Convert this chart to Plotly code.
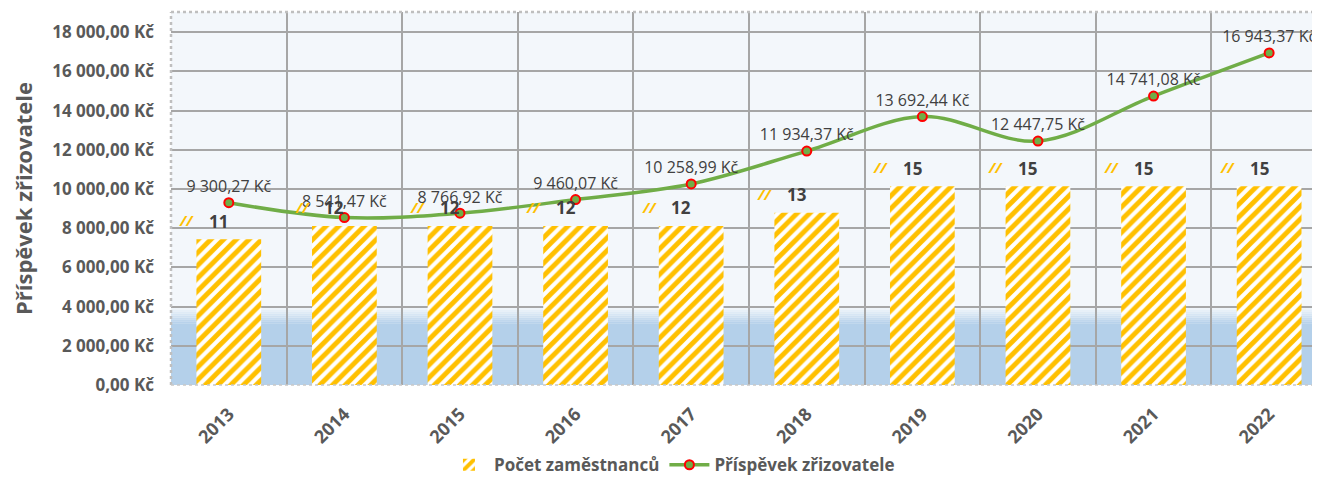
import plotly.graph_objects as go

years = ["2013", "2014", "2015", "2016", "2017", "2018", "2019", "2020", "2021", "2022"]
employees = [11, 12, 12, 12, 12, 13, 15, 15, 15, 15]
contribution = [9300.27, 8541.47, 8766.92, 9460.07, 10258.99, 11934.37, 13692.44, 12447.75, 14741.08, 16943.37]
y_ticks = [0, 2000, 4000, 6000, 8000, 10000, 12000, 14000, 16000, 18000]


def czk(v):
    return f"{v:,.2f}".replace(",", " ").replace(".", ",") + " Kč"


y_ticktext = [czk(v) for v in y_ticks]

FONT = "Open Sans"
GRAY = "#595959"
DARK = "#404040"

fig = go.Figure()

fig.add_trace(go.Bar(
    x=years, y=employees, name="Počet zaměstnanců", yaxis="y",
    width=0.56,
    marker=dict(color="white", line=dict(width=0),
                pattern=dict(shape="/", fgcolor="#ffc000", bgcolor="white",
                             size=9, solidity=0.55, fgopacity=1)),
    hoverinfo="skip",
))

fig.add_trace(go.Scatter(
    x=years, y=contribution, name="Příspěvek zřizovatele", yaxis="y2",
    mode="lines+markers+text",
    line=dict(color="#70ad47", width=3.5, shape="spline", smoothing=1.0),
    marker=dict(color="#70ad47", size=9, line=dict(color="#ff0000", width=2)),
    text=[czk(v) for v in contribution], textposition="top center",
    textfont=dict(family=FONT, size=16, color=DARK),
))

annotations = []
for i, n in enumerate(employees):
    annotations.append(dict(x=i, y=n, xref="x", yref="y", text=f"<b>{n}</b>",
                            showarrow=False, xshift=-10, yshift=18,
                            font=dict(family=FONT, size=17, color=DARK)))
    annotations.append(dict(x=i, y=n, xref="x", yref="y", text="<b><i>//</i></b>",
                            showarrow=False, xshift=-42, yshift=19,
                            font=dict(family=FONT, size=15, color="#ffc000")))

# background band (blue at bottom with soft fade)
shapes = []
shapes.append(dict(type="rect", xref="paper", yref="y2", x0=0, x1=1, y0=0, y1=3150,
                   fillcolor="#b4d0ea", line=dict(width=0), layer="below"))
steps = 8
lo, hi = 3150, 3950
c0 = (0xb4, 0xd0, 0xea)
c1 = (0xf3, 0xf7, 0xfb)
for i in range(steps):
    t = (i + 0.5) / steps
    col = tuple(round(c0[k] + (c1[k] - c0[k]) * t) for k in range(3))
    shapes.append(dict(type="rect", xref="paper", yref="y2", x0=0, x1=1,
                       y0=lo + (hi - lo) * i / steps, y1=lo + (hi - lo) * (i + 1) / steps,
                       fillcolor="rgb(%d,%d,%d)" % col, line=dict(width=0), layer="below"))
# dotted border
shapes.append(dict(type="line", xref="paper", yref="paper", x0=0, x1=1, y0=1, y1=1,
                   line=dict(color="#bfbfbf", width=2.5, dash="dot"), layer="above"))
shapes.append(dict(type="line", xref="paper", yref="paper", x0=0, x1=0, y0=0, y1=1,
                   line=dict(color="#bfbfbf", width=2.5, dash="dot"), layer="above"))
shapes.append(dict(type="line", xref="paper", yref="paper", x0=0, x1=1, y0=0, y1=0,
                   line=dict(color="#c8c8c8", width=1.5, dash="dot"), layer="above"))

# page body has an 8px default margin; size the figure to land at the reference spots
fig.update_layout(
    width=1312, height=469,
    margin=dict(l=163, r=0, t=4, b=92, autoexpand=False),
    paper_bgcolor="white", plot_bgcolor="#f3f7fb",
    showlegend=True,
    legend=dict(orientation="h", x=0.436, xanchor="center", y=-0.215, yanchor="middle",
                font=dict(family=FONT, size=17, color=GRAY, weight="bold"),
                traceorder="normal", itemwidth=40),
    xaxis=dict(type="category", range=[-0.5, 9.44], tickson="boundaries",
               showgrid=True, gridcolor="#a6a6a6", gridwidth=2,
               tickangle=-45, ticks="", automargin=False, ticklabelstandoff=14,
               tickfont=dict(family=FONT, size=18, color=GRAY, weight="bold"),
               showline=False, zeroline=False),
    yaxis=dict(range=[0, 28.15], visible=False, showgrid=False, zeroline=False),
    yaxis2=dict(overlaying="y", side="left", range=[0, 19030],
                tickmode="array", tickvals=y_ticks, ticktext=y_ticktext,
                tickfont=dict(family=FONT, size=17, color=GRAY, weight="bold"),
                showgrid=True, gridcolor="#a6a6a6", gridwidth=2, automargin=False,
                zeroline=False, ticks="", ticklabelstandoff=16,
                title=dict(text="Příspěvek zřizovatele", standoff=19,
                           font=dict(family=FONT, size=22, color=GRAY, weight="bold"))),
    annotations=annotations,
    shapes=shapes,
)

fig.write_html("out.html")
